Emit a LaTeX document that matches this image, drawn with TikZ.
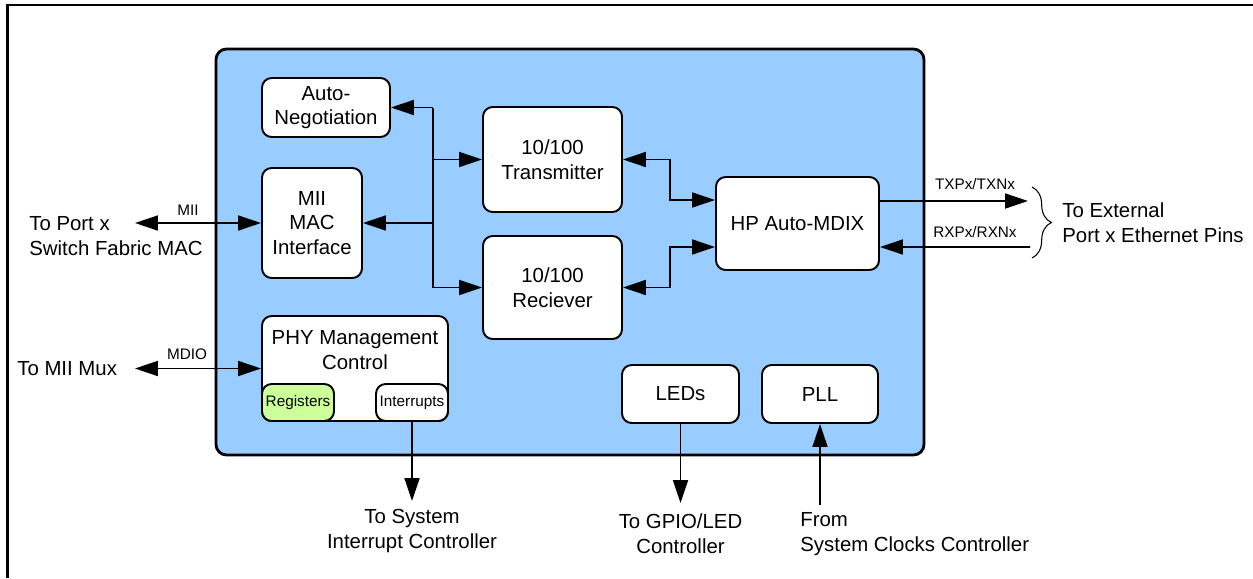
\documentclass[tikz,border=0pt]{standalone}
\usepackage{fontspec}
\setmainfont{Liberation Sans}
\usetikzlibrary{arrows.meta,decorations.pathreplacing,calc}
\definecolor{chipblue}{HTML}{99CCFF}
\definecolor{reggreen}{HTML}{CCFF99}
\newcommand{\mainfs}{\fontsize{11.6}{14}\selectfont}
\newcommand{\smallfs}{\fontsize{8.7}{10}\selectfont}
\newcommand{\blkbox}[7][]{%
  \node[blk,#1,minimum width={(#5-#3)*0.02cm},minimum height={(#6-#4)*0.02cm}]
    (#2) at ({(#3+#5)/2},{(#4+#6)/2}) {#7};}
\tikzset{
  blk/.style={draw, fill=white, rounded corners=5.5pt, line width=1.1pt,
              align=center, font=\mainfs, inner sep=0pt},
  chip/.style={draw, fill=chipblue, rounded corners=6pt, line width=1.6pt, inner sep=0pt},
  conn/.style={line width=1pt},
  lbl/.style={font=\mainfs, align=center, inner sep=0pt},
  slbl/.style={font=\smallfs, inner sep=0pt},
  >={Triangle[length=13pt,width=8.5pt]}
}
\begin{document}
\begin{tikzpicture}[x=0.02cm,y=-0.02cm]
\useasboundingbox (0,0) rectangle (1253,578);
% outer frame (only top and left visible)
\draw[line width=1.2pt] (7.5,578) -- (7.5,5) -- (1253,5);
% chip container
\blkbox[chip]{chip}{216}{49}{924}{455}{}
% blocks
\blkbox{AN}{262}{78}{390}{137}{Auto-\\Negotiation}
\blkbox{MII}{262}{168}{362}{278}{MII\\MAC\\Interface}
\blkbox{TX}{483}{107}{622}{212}{10/100\\Transmitter}
\blkbox{RX}{483}{236}{622}{339}{10/100\\Reciever}
\blkbox{HP}{716}{177}{879}{270}{HP Auto-MDIX}
\blkbox{PHY}{262}{316}{448}{421}{}
\node[lbl] (PHYt) at (355,350) {PHY Management\\Control};
\blkbox[fill=reggreen,font=\smallfs]{REG}{262}{384}{334}{421}{Registers}
\blkbox[font=\smallfs]{INT}{376}{384}{448}{421}{Interrupts}
\blkbox{LED}{622}{365}{739}{423}{LEDs}
\blkbox{PLL}{762}{365}{878}{423}{PLL}
% internal bus
\coordinate (busT) at (433,107.5);
\coordinate (busB) at (433,287.5);
\draw[conn] (busT) -- (busB);
\draw[conn,->] (busT) -- (AN.east);
\draw[conn,->] (TX.west -| busT) -- (TX.west);
\draw[conn,->] (MII.east -| busT) -- (MII.east);
\draw[conn,->] (RX.west -| busT) -- (RX.west);
% TX/RX to HP
\coordinate (hpTin) at ($(HP.west)+(0,-23.5)$);
\coordinate (hpRin) at ($(HP.west)+(0,23.5)$);
\draw[conn,<->] (TX.east) -- ($(TX.east)+(47,0)$) |- (hpTin);
\draw[conn,<->] (RX.east) -- ($(RX.east)+(47,0)$) |- (hpRin);
% HP external
\coordinate (hpTout) at ($(HP.east)+(0,-22.5)$);
\coordinate (hpRout) at ($(HP.east)+(0,23.5)$);
\coordinate (txEnd) at (1028,201);
\coordinate (rxEnd) at (1030,247);
\draw[conn,->] (hpTout) -- (txEnd);
\draw[conn,<-] (hpRout) -- (rxEnd);
\node[slbl] (txl) at (975,184) {TXPx/TXNx};
\node[slbl] (rxl) at (975,232) {RXPx/RXNx};
\coordinate (brT) at (1032,187);
\coordinate (brB) at (1032,258);
\draw[line width=0.6pt, decorate, decoration={brace, amplitude=11pt}] (brT) -- (brB);
\node[lbl, anchor=west, align=left] (ext) at (1062,222.5) {To External\\Port x Ethernet Pins};
% MII external
\coordinate (miiL) at (135,223);
\draw[conn,<->] (miiL) -- (MII.west);
\node[slbl] (miil) at (188,210) {MII};
\node[lbl, anchor=west, align=left] (portx) at (29,236) {To Port x\\Switch Fabric MAC};
% MDIO
\coordinate (mdioL) at (135,368.5);
\draw[conn,<->] (mdioL) -- (PHY.west);
\node[slbl] (mdiol) at (187,354) {MDIO};
\node[lbl, anchor=west] (mux) at (17,368.5) {To MII Mux};
% bottom connectors
\coordinate (intEnd) at (412,501);
\draw[conn,->] (INT.south) -- (intEnd);
\node[lbl] (intl) at (412,531) {To System\\Interrupt Controller};
\coordinate (ledEnd) at (680.5,503);
\draw[conn,->] (LED.south) -- (ledEnd);
\node[lbl] (ledl) at (680.5,534) {To GPIO/LED\\Controller};
\coordinate (pllStart) at (820,505);
\draw[conn,->] (pllStart) -- (PLL.south);
\node[lbl, anchor=west, align=left] (clkl) at (800,534) {From\\System Clocks Controller};
\end{tikzpicture}
\end{document}
